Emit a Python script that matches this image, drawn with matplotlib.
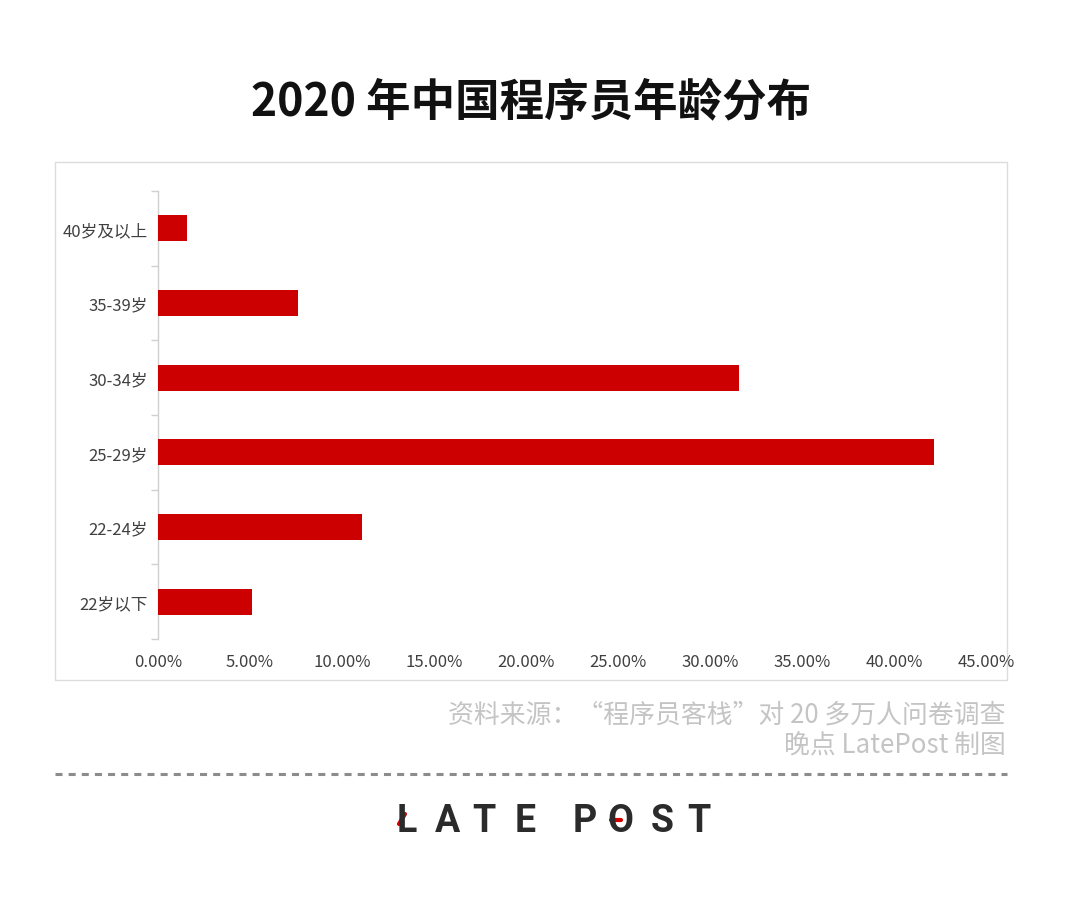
import matplotlib
matplotlib.use("Agg")
import matplotlib.pyplot as plt
from matplotlib.patches import Rectangle
from matplotlib.lines import Line2D
from matplotlib.ticker import FixedLocator, FuncFormatter

plt.rcParams['font.family'] = ['Noto Sans CJK SC', 'DejaVu Sans']

# ---- data ----
categories = ["22岁以下", "22-24岁", "25-29岁", "30-34岁", "35-39岁", "40岁及以上"]
shares = [5.1, 11.1, 42.2, 31.6, 7.6, 1.6]
x_ticks = [0, 5, 10, 15, 20, 25, 30, 35, 40, 45]
title = "2020 年中国程序员年龄分布"
source_line1 = "资料来源：“程序员客栈”对 20 多万人问卷调查"
source_line2 = "晚点 LatePost 制图"
logo_letters = ["L", "A", "T", "E", "P", "O", "S", "T"]

W, H = 1074, 904
fig = plt.figure(figsize=(W / 100, H / 100), dpi=100)
fig.patch.set_facecolor("white")

def fx(px):
    return px / W

def fy(py):
    return 1 - py / H

# chart box
fig.add_artist(Rectangle((fx(55), fy(681)), fx(1007) - fx(55), fy(163) - fy(681),
                         transform=fig.transFigure, facecolor="white",
                         edgecolor="#dcdcdc", linewidth=1.0, zorder=0))

# axes
ax = fig.add_axes([fx(158), fy(640), fx(986) - fx(158), fy(192) - fy(640)])
ax.set_facecolor("none")
y = list(range(len(categories)))
ax.barh(y, shares, height=0.35, color="#CC0000", zorder=3)
ax.set_xlim(0, 45)
ax.set_ylim(-0.5, len(categories) - 0.5)

ax.xaxis.set_major_locator(FixedLocator(x_ticks))
ax.xaxis.set_major_formatter(FuncFormatter(lambda v, p: f"{v:.2f}%"))
ax.tick_params(axis="x", length=0, pad=10, labelsize=12, labelcolor="#404040")

# y ticks: marks at boundaries, labels at centers
ax.set_yticks([i - 0.5 for i in range(len(categories) + 1)])
ax.set_yticklabels([])
ax.set_yticks(y, minor=True)
ax.set_yticklabels(categories, minor=True)
ax.tick_params(axis="y", which="major", length=5, width=1, color="#d0d0d0", direction="out")
ax.tick_params(axis="y", which="minor", length=0, pad=7.5, labelsize=12, labelcolor="#404040")

for s in ["top", "right", "bottom"]:
    ax.spines[s].set_visible(False)
ax.spines["left"].set_color("#d0d0d0")
ax.spines["left"].set_linewidth(1)

# title
fig.text(fx(531), fy(103), title, ha="center", va="center", fontsize=32,
         fontweight="bold", color="#111111")

# source
fig.text(fx(1006), fy(715), source_line1, ha="right", va="center", fontsize=18.6,
         color="#c4c4c4")
fig.text(fx(1006), fy(746), source_line2, ha="right", va="center", fontsize=18.6,
         color="#c4c4c4")

# dashed separator
fig.add_artist(Line2D([fx(55), fx(1007)], [fy(775), fy(775)], transform=fig.transFigure,
                      color="#8c8c8c", linewidth=2.2, dashes=(2.3, 2.0)))

# logo
logo_x = [407, 447, 484, 525, 585, 620, 662, 699]
for ch, px in zip(logo_letters, logo_x):
    fig.text(fx(px), fy(822), ch, ha="center", va="center", fontsize=27,
             fontweight="bold", family=["Roboto", "DejaVu Sans"], color="#2b2b2b")
fig.add_artist(Line2D([fx(399), fx(405)], [fy(825), fy(815)], transform=fig.transFigure,
                      color="#d40000", linewidth=3, solid_capstyle="round"))
fig.add_artist(Line2D([fx(611), fx(621)], [fy(821), fy(821)], transform=fig.transFigure,
                      color="#d40000", linewidth=3, solid_capstyle="round"))

fig.savefig("out.png", dpi=100, facecolor="white")
